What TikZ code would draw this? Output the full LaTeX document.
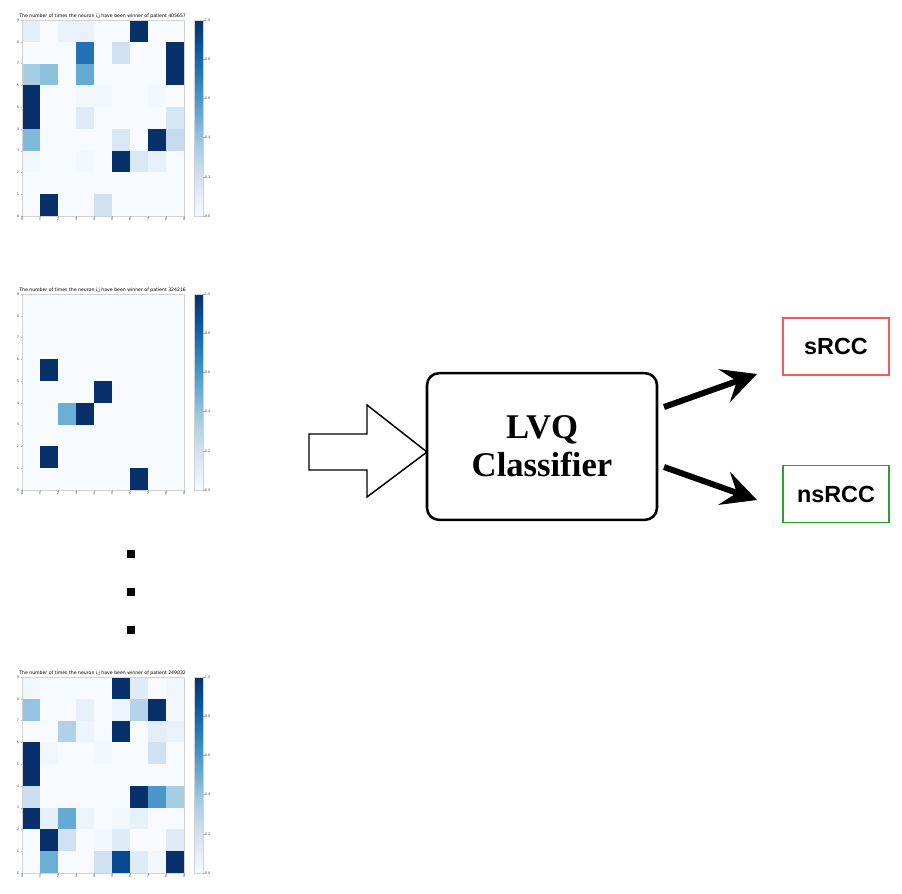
\documentclass[tikz,border=0pt]{standalone}
\usepackage{fontspec}
\usepackage{graphicx}
\usetikzlibrary{arrows.meta}
\newfontfamily\tnr{Liberation Serif}
\newfontfamily\ari{Liberation Sans}
\newfontfamily\dvs{DejaVu Sans}
\definecolor{B0}{HTML}{F7FBFF}
\definecolor{B1}{HTML}{DEEBF7}
\definecolor{B2}{HTML}{C6DBEF}
\definecolor{B3}{HTML}{9ECAE1}
\definecolor{B4}{HTML}{6BAED6}
\definecolor{B5}{HTML}{4292C6}
\definecolor{B6}{HTML}{2171B5}
\definecolor{B7}{HTML}{08519C}
\definecolor{B8}{HTML}{08306B}
\definecolor{sred}{HTML}{F25C5C}
\definecolor{sgreen}{HTML}{2EA02E}
\newcommand\hmcell[3]{%
  \pgfmathsetmacro\hmpos{#3*8}%
  \pgfmathtruncatemacro\hmia{min(floor(\hmpos),7)}%
  \pgfmathtruncatemacro\hmib{\hmia+1}%
  \pgfmathtruncatemacro\hmpct{round((\hmpos-\hmia)*100)}%
  \colorlet{hmcc}{B\hmib!\hmpct!B\hmia}%
  \fill[hmcc] ({22+#1*18},{\HB-#2*21.78}) rectangle ({22+(#1+1)*18},{\HB-(#2+1)*21.78});%
}
\newcommand\heatmap[3]{%
  \pgfmathsetmacro\HT{#1}\pgfmathsetmacro\HB{#1+196}%
  \fill[B0] (22,\HT) rectangle (184,\HB);
  \foreach \c/\r/\v in {#3} {\hmcell{\c}{\r}{\v}}
  \draw[gray!35, line width=0.4pt] (22,\HT) rectangle (184,\HB);
  \foreach \i in {0,...,9} {
    \draw[gray!60, line width=0.2pt] ({22+\i*18},\HB) -- ++(0,1.5);
    \node[ticklab, anchor=north] at ({22+\i*18},{\HB+1}) {\i};
    \draw[gray!60, line width=0.2pt] (22,{\HB-\i*21.78}) -- ++(-1.5,0);
    \node[ticklab, anchor=east] at (20,{\HB-\i*21.78}) {\i};
  }
  \node[anchor=south west, inner sep=0pt] at (19,{\HT-1.5})
    {\resizebox{125pt}{!}{\dvs\fontsize{4}{5}\selectfont The number of times the neuron i,j have been winner of patient #2}};
  \foreach \i [evaluate=\i as \j using int(\i+1)] in {0,...,7}
    \shade[bottom color=B\i, top color=B\j] (194,{\HB-\i*24.5}) rectangle (203,{\HB-(\i+1)*24.5});
  \draw[gray!35, line width=0.4pt] (194,\HT) rectangle (203,\HB);
  \foreach \i/\t in {0/0.0,1/0.2,2/0.4,3/0.6,4/0.8,5/1.0} {
    \draw[gray!60, line width=0.2pt] (203,{\HB-\i*39.2}) -- ++(1.5,0);
    \node[ticklab, anchor=west] at (204,{\HB-\i*39.2}) {\t};
  }
}
\tikzset{
  ticklab/.style={inner sep=0.5pt, font=\dvs\fontsize{2.6}{3}\selectfont, text=black!70},
  mainbox/.style={draw, line width=1.9pt, rounded corners=9pt, fill=white,
    minimum width=172.5pt, minimum height=110pt, align=center,
    font=\tnr\bfseries\fontsize{26}{28.5}\selectfont},
  classbox/.style={draw, line width=1.1pt, minimum width=79.5pt, minimum height=42.5pt,
    font=\ari\bfseries\fontsize{17.5}{20}\selectfont},
  fatarrow/.style={line width=4.5pt, -{Stealth[length=26pt, width=26pt, inset=10pt]}},
  dotsq/.style={fill=black, minimum size=5.3pt, inner sep=0pt},
}
\begin{document}
\begin{tikzpicture}[x=0.75pt, y=-0.75pt]
\useasboundingbox (0,0) rectangle (902,893);
% heatmap 1
\heatmap{20}{405657}{0/8/0.1,2/8/0.07,3/8/0.07,6/8/1,
  3/7/0.75,5/7/0.2,8/7/1,
  0/6/0.35,1/6/0.42,3/6/0.52,8/6/1,
  0/5/1,3/5/0.02,4/5/0.02,7/5/0.02,
  0/4/1,3/4/0.12,8/4/0.16,
  0/3/0.45,5/3/0.15,7/3/1,8/3/0.25,
  0/2/0.02,3/2/0.02,5/2/1,6/2/0.15,7/2/0.08,
  1/0/1,4/0/0.2}
% heatmap 2
\heatmap{294}{324216}{1/5/1,4/4/1,2/3/0.5,3/3/1,1/1/1,6/0/1}
% heatmap 3
\heatmap{677}{249032}{0/8/0.03,5/8/1,6/8/0.12,8/8/0.03,
  0/7/0.4,3/7/0.08,5/7/0.05,6/7/0.3,7/7/1,8/7/0.03,
  2/6/0.32,3/6/0.05,5/6/1,7/6/0.1,8/6/0.07,
  0/5/1,1/5/0.03,4/5/0.02,7/5/0.2,
  0/4/1,
  0/3/0.22,6/3/1,7/3/0.6,8/3/0.35,
  0/2/1,1/2/0.08,2/2/0.52,3/2/0.05,5/2/0.02,6/2/0.08,
  1/1/1,2/1/0.2,4/1/0.02,5/1/0.12,8/1/0.12,
  1/0/0.5,4/0/0.2,5/0/0.9,6/0/0.12,7/0/0.03,8/0/1}
% dots
\node[dotsq] (d1) at (131,554) {};
\node[dotsq] (d2) at (131,592) {};
\node[dotsq] (d3) at (131,630) {};
% block arrow
\draw[line width=1.1pt, fill=white, line join=miter]
  (309,434) -- (367,434) -- (367,405) -- (427,452) -- (367,497) -- (367,470) -- (309,470) -- cycle;
% classifier
\node[mainbox] (lvq) at (542,446.5) {LVQ\\Classifier};
\node[classbox, draw=sred] (srcc) at (836,346.5) {sRCC};
\node[classbox, draw=sgreen] (nsrcc) at (836,494) {nsRCC};
\coordinate (u1) at (664,407);
\coordinate (u2) at (757,374);
\coordinate (l1) at (664,467);
\coordinate (l2) at (757,500);
\draw[fatarrow] (u1) -- (u2);
\draw[fatarrow] (l1) -- (l2);
\end{tikzpicture}
\end{document}
